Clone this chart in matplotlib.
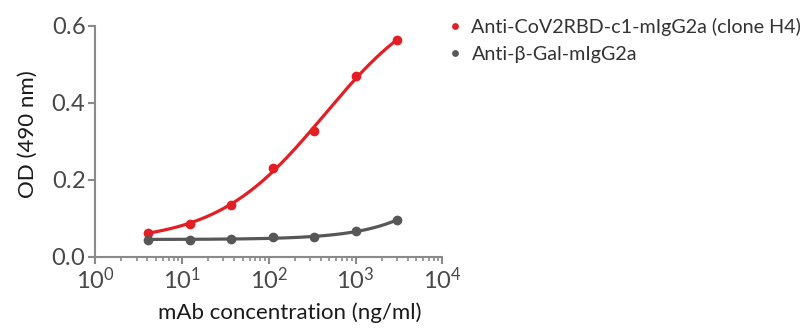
import numpy as np
import matplotlib
matplotlib.use('Agg')
import matplotlib.pyplot as plt
from matplotlib.ticker import FuncFormatter, LogLocator

# data
conc = [4.1, 12.3, 37, 111, 333, 1000, 3000]
od_h4 = [0.063, 0.086, 0.134, 0.231, 0.327, 0.469, 0.562]
od_gal = [0.045, 0.045, 0.046, 0.051, 0.051, 0.066, 0.096]
labels = ["Anti-CoV2RBD-c1-mIgG2a (clone H4)", "Anti-\u03b2-Gal-mIgG2a"]
colors = ["#e31e24", "#575757"]

plt.rcParams['font.family'] = ['Lato', 'DejaVu Sans']
plt.rcParams['mathtext.fontset'] = 'custom'
plt.rcParams['mathtext.rm'] = 'Lato:light'


def fit_4pl(x, y):
    # grid over EC50 / hill, linear least squares for bottom/top
    x = np.asarray(x, float)
    y = np.asarray(y, float)
    best = None
    for logc in np.linspace(0, 5, 251):
        for h in np.linspace(0.3, 3, 136):
            s = 1.0 / (1.0 + (10**logc / x)**h)
            A = np.column_stack([1 - s, s])
            coef, *_ = np.linalg.lstsq(A, y, rcond=None)
            err = np.sum((A @ coef - y)**2)
            if best is None or err < best[0]:
                best = (err, logc, h, coef)
    _, logc, h, (bot, top) = best
    return lambda xx: bot + (top - bot) / (1.0 + (10**logc / xx)**h)


fig = plt.figure(figsize=(8, 3.31), dpi=100)
ax = fig.add_axes([0.119, 0.224, 0.434, 0.698])

xs = np.logspace(np.log10(conc[0]), np.log10(conc[-1]), 200)
handles = []
for ys, col, lab in zip([od_h4, od_gal], colors, labels):
    f = fit_4pl(conc, ys)
    ax.plot(xs, f(xs), color=col, lw=2.3, zorder=2)
    h = ax.plot(conc, ys, 'o', color=col, ms=7, mec='none', zorder=3, label=lab)[0]
    handles.append(h)

ax.set_xscale('log')
ax.set_xlim(1, 1e4)
ax.set_ylim(0, 0.6)
ax.set_yticks([0, 0.2, 0.4, 0.6])
ax.yaxis.set_major_formatter(FuncFormatter(lambda v, p: r"$\mathregular{%.1f}$" % v))
ax.xaxis.set_major_locator(LogLocator(base=10, numticks=10))
ax.xaxis.set_minor_locator(LogLocator(base=10, subs=np.arange(2, 10), numticks=10))
ax.xaxis.set_major_formatter(FuncFormatter(lambda v, p: r"$\mathregular{10^{%d}}$" % round(np.log10(v))))

for s in ['top', 'right']:
    ax.spines[s].set_visible(False)
for s in ['left', 'bottom']:
    ax.spines[s].set_color('#8a8a8a')
    ax.spines[s].set_linewidth(1.5)
ax.tick_params(which='major', length=5, width=1.5, color='#8a8a8a',
               labelsize=17, labelcolor='#484848', pad=2)
ax.tick_params(which='minor', length=3, width=1.2, color='#8a8a8a')

ax.set_xlabel("mAb concentration (ng/ml)", fontsize=16, color='#1a1a1a')
ax.set_ylabel("OD (490 nm)", fontsize=16, color='#1a1a1a')
ax.xaxis.set_label_coords(0.56, -0.195)
ax.yaxis.set_label_coords(-0.165, 0.53)

fig.legend(handles=handles, loc='upper left', bbox_to_anchor=(0.54, 1.0),
           frameon=False, fontsize=14.2, handlelength=0.5, handletextpad=0.6,
           markerscale=0.7, labelspacing=0.5, labelcolor='#333333')

fig.savefig("out.png", dpi=100)
